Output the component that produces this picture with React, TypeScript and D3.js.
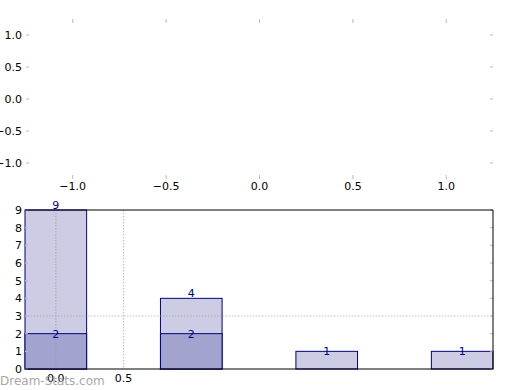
import React from 'react';
import * as d3 from 'd3';

// top panel: empty axes, ticks only
const topXTicks = [-1.0, -0.5, 0.0, 0.5, 1.0];
const topYTicks = [1.0, 0.5, 0.0, -0.5, -1.0];

// bottom panel: stacked bars
const barPositions = [0, 1, 2, 3];
const totals = [9, 4, 1, 1];
const lowers = [2, 2, 0, 0];
const bottomYTicks = [0, 1, 2, 3, 4, 5, 6, 7, 8, 9];
const bottomXTicks = [0.0, 0.5];
const gridX = [0.0, 0.5];
const gridY = [3];

const FONT = 'DejaVu Sans, sans-serif';
const BAR_W = 0.455;
const fmt = (v: number) => d3.format('.1f')(v).replace('-', '\u2212');

const App = () => {
  const W = 520;
  const H = 390;

  const tx = d3.scaleLinear().domain([-1.25, 1.25]).range([26, 493]);
  const ty = d3.scaleLinear().domain([-1.25, 1.25]).range([179, 19]);

  const bx = d3.scaleLinear().domain([-BAR_W / 2, 3 + BAR_W / 2]).range([25, 493]);
  const by = d3.scaleLinear().domain([0, 9]).range([369, 210]);

  const tickColor = '#bbbbbb';
  const light = '#ccccE5';
  const dark = '#a3a3d0';
  const edge = '#000080';

  return (
    <svg width={W} height={H} style={{ position: 'absolute', left: 0, top: 0 }} fontFamily={FONT}>
      <rect width={W} height={H} fill="#fff" />

      {/* top panel ticks */}
      {topXTicks.map((t) => (
        <g key={'tx' + t}>
          <line x1={tx(t)} x2={tx(t)} y1={19} y2={23} stroke={tickColor} />
          <line x1={tx(t)} x2={tx(t)} y1={175} y2={179} stroke={tickColor} />
          <text x={tx(t)} y={190} fontSize={11} textAnchor="middle" fill="#000">
            {fmt(t)}
          </text>
        </g>
      ))}
      {topYTicks.map((t) => (
        <g key={'ty' + t}>
          <line x1={26} x2={29} y1={ty(t)} y2={ty(t)} stroke={tickColor} />
          <line x1={490} x2={493} y1={ty(t)} y2={ty(t)} stroke={tickColor} />
          <text x={22} y={ty(t) + 4} fontSize={11} textAnchor="end" fill="#000">
            {fmt(t)}
          </text>
        </g>
      ))}

      {/* bottom panel bars */}
      {barPositions.map((p, i) => (
        <g key={'bar' + i}>
          <rect
            x={bx(p - BAR_W / 2)}
            y={by(totals[i])}
            width={bx(p + BAR_W / 2) - bx(p - BAR_W / 2)}
            height={by(0) - by(totals[i])}
            fill={light}
            stroke={edge}
          />
          {lowers[i] > 0 && (
            <rect
              x={bx(p - BAR_W / 2)}
              y={by(lowers[i])}
              width={bx(p + BAR_W / 2) - bx(p - BAR_W / 2)}
              height={by(0) - by(lowers[i])}
              fill={dark}
              stroke={edge}
            />
          )}
        </g>
      ))}

      {/* grid */}
      {gridX.map((g) => (
        <line key={'gx' + g} x1={bx(g)} x2={bx(g)} y1={210} y2={369} stroke="#999" strokeOpacity={0.6} strokeWidth={1.2} strokeDasharray="1.5,1.5" />
      ))}
      {gridY.map((g) => (
        <line key={'gy' + g} x1={25} x2={493} y1={by(g)} y2={by(g)} stroke="#999" strokeOpacity={0.6} strokeWidth={1.2} strokeDasharray="1.5,1.5" />
      ))}

      {/* bottom ticks */}
      {bottomYTicks.map((t) => (
        <g key={'by' + t}>
          <line x1={25} x2={28} y1={by(t)} y2={by(t)} stroke={tickColor} />
          <line x1={490} x2={493} y1={by(t)} y2={by(t)} stroke={tickColor} />
          <text x={22} y={by(t) + 4} fontSize={11} textAnchor="end" fill="#000">
            {t}
          </text>
        </g>
      ))}
      {bottomXTicks.map((t) => (
        <text key={'bx' + t} x={bx(t)} y={382} fontSize={11} textAnchor="middle" fill="#000">
          {t.toFixed(1)}
        </text>
      ))}

      {/* spines */}
      <line x1={25} x2={493} y1={210} y2={210} stroke="#000" />
      <line x1={493} x2={493} y1={210} y2={369} stroke="#000" />
      <line x1={25} x2={493} y1={369} y2={369} stroke="#000" />

      {/* value labels */}
      {barPositions.map((p, i) => (
        <text
          key={'lt' + i}
          x={bx(p)}
          y={totals[i] > 2 ? by(totals[i]) - 1 : by(totals[i]) + 4}
          fontSize={11}
          textAnchor="middle"
          fill={edge}
        >
          {totals[i]}
        </text>
      ))}
      {barPositions.map((p, i) =>
        lowers[i] > 0 ? (
          <text key={'ll' + i} x={bx(p)} y={by(lowers[i]) + 4} fontSize={11} textAnchor="middle" fill={edge}>
            {lowers[i]}
          </text>
        ) : null
      )}

      <text x={0} y={385} fontSize={12} fill="#999" opacity={0.85}>
        Dream-Stats.com
      </text>
    </svg>
  );
};

export default App;
